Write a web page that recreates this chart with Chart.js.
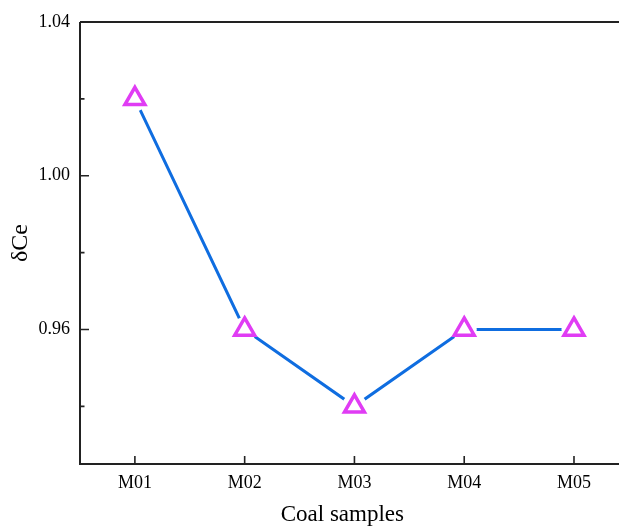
<!DOCTYPE html>
<html>
<head>
<meta charset="utf-8">
<script src="https://cdn.jsdelivr.net/npm/chart.js@4.4.0/dist/chart.umd.min.js"></script>
<style>
  html, body { margin: 0; padding: 0; background: #fff; }
  canvas { display: block; }
</style>
</head>
<body>
<canvas id="grafico" width="619" height="529"></canvas>
<script>
const amostras = ['M01', 'M02', 'M03', 'M04', 'M05']
const deltaCe = [1.02, 0.96, 0.94, 0.96, 0.96]
const yTicks = [0.96, 1.00, 1.04]
const yMinorTicks = [0.94, 0.98, 1.02]
const tituloX = 'Coal samples'
const tituloY = 'δCe'

const fonte = 'Liberation Serif, Times New Roman, serif'
const corLinha = '#0f6de0'
const corMarca = '#e03cf4'
const corEixo = '#222'

const pontos = deltaCe.map((v, i) => ({ x: i, y: v }))

// ticks para dentro + moldura (top, left, bottom) + titulo do eixo x
const eixosPlugin = {
    id: 'eixos',
    afterDraw(chart) {
        const ctx = chart.ctx
        const area = chart.chartArea
        const sx = chart.scales.x
        const sy = chart.scales.y
        ctx.save()
        ctx.strokeStyle = corEixo
        ctx.lineWidth = 2
        ctx.beginPath()
        ctx.moveTo(area.left, area.top)
        ctx.lineTo(chart.width, area.top)
        ctx.moveTo(area.left, area.top)
        ctx.lineTo(area.left, area.bottom)
        ctx.lineTo(chart.width, area.bottom)
        ctx.stroke()

        ctx.lineWidth = 1.6
        ctx.beginPath()
        for (let i = 0; i < amostras.length; i++) {
            const px = sx.getPixelForValue(i)
            ctx.moveTo(px, area.bottom)
            ctx.lineTo(px, area.bottom - 8)
        }
        yTicks.forEach(v => {
            const py = sy.getPixelForValue(v)
            ctx.moveTo(area.left, py)
            ctx.lineTo(area.left + 9, py)
        })
        yMinorTicks.forEach(v => {
            const py = sy.getPixelForValue(v)
            ctx.moveTo(area.left, py)
            ctx.lineTo(area.left + 4.5, py)
        })
        ctx.stroke()

        // titulo x (um pouco a esquerda do centro, como no original)
        ctx.fillStyle = '#000'
        ctx.font = '23px ' + fonte
        ctx.textAlign = 'center'
        ctx.textBaseline = 'middle'
        ctx.fillText(tituloX, sx.getPixelForValue(1.89), 515)
        ctx.restore()
    }
}

let ctx = document.getElementById('grafico').getContext('2d')

const meuGrafico = new Chart(ctx, {
    type: 'line',
    data: {
        datasets: [
            {
                // triangulos
                data: pontos,
                showLine: false,
                pointStyle: 'triangle',
                pointRadius: 11.5,
                pointBorderWidth: 3.5,
                pointBorderColor: corMarca,
                pointBackgroundColor: 'rgba(255,255,255,0)',
                order: 1
            },
            {
                // "buraco" branco em volta das marcas
                data: pontos,
                showLine: false,
                pointStyle: 'circle',
                pointRadius: 12.5,
                pointBorderWidth: 0,
                pointBackgroundColor: '#fff',
                order: 2
            },
            {
                data: pontos,
                borderColor: corLinha,
                borderWidth: 3,
                pointRadius: 0,
                tension: 0,
                order: 3
            }
        ]
    },
    plugins: [eixosPlugin],
    options: {
        responsive: false,
        animation: false,
        layout: { autoPadding: false, padding: { top: 22, right: 0, left: 0, bottom: 0 } },
        plugins: {
            legend: { display: false },
            tooltip: { enabled: false }
        },
        scales: {
            x: {
                type: 'linear',
                min: -0.5,
                max: 4.41,
                afterFit: (s) => { s.height = 65; s.paddingLeft = 0; s.paddingRight = 0 },
                afterBuildTicks: (s) => { s.ticks = amostras.map((a, i) => ({ value: i })) },
                grid: { display: false, drawTicks: false },
                border: { display: false },
                ticks: {
                    padding: 8,
                    color: '#000',
                    font: { family: fonte, size: 18 },
                    callback: (v) => amostras[v] || ''
                },
                title: { display: false }
            },
            y: {
                min: 0.925,
                max: 1.04,
                afterFit: (s) => { s.width = 80; s.paddingTop = 0; s.paddingBottom = 0 },
                afterBuildTicks: (s) => { s.ticks = yTicks.map(v => ({ value: v })) },
                grid: { display: false, drawTicks: false },
                border: { display: false },
                ticks: {
                    padding: 10,
                    color: '#000',
                    font: { family: fonte, size: 18 },
                    callback: (v) => v.toFixed(2)
                },
                title: {
                    display: true,
                    text: tituloY,
                    color: '#000',
                    font: { family: fonte, size: 24 },
                    padding: { top: 6, bottom: 0 }
                }
            }
        }
    }
});
</script>
</body>
</html>
